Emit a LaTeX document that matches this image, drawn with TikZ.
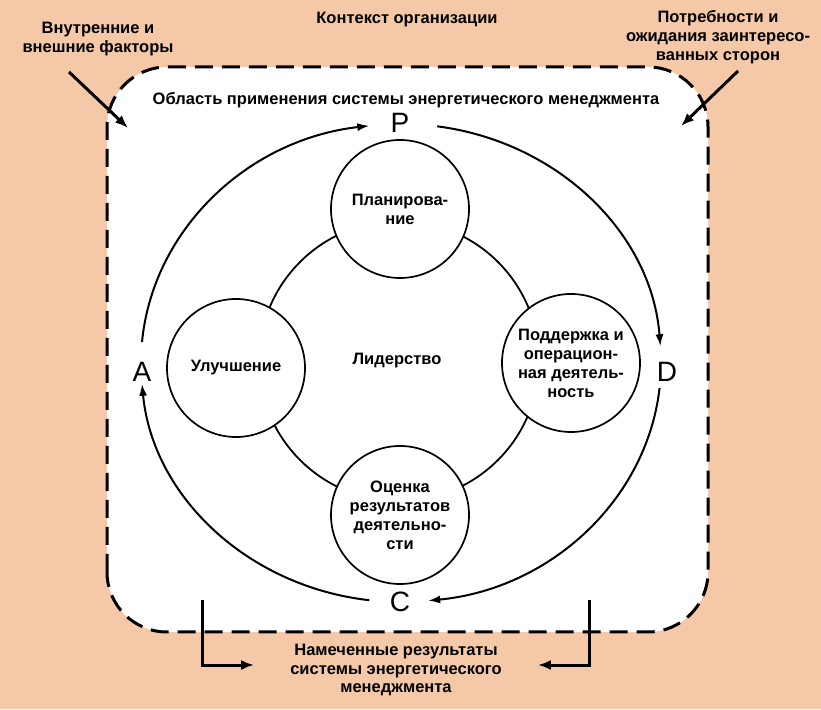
\documentclass[tikz,border=0pt]{standalone}
\usepackage{fontspec}
\setmainfont{Liberation Sans}
\usetikzlibrary{arrows.meta}

\definecolor{fon}{RGB}{245,201,168}

\tikzset{
  txt/.style={font=\bfseries\fontsize{16.5}{19}\selectfont, align=center, inner sep=0pt},
  letra/.style={font=\fontsize{28}{30}\selectfont, inner sep=0pt},
  etap/.style={circle, draw, line width=1.7pt, fill=white, minimum size=138pt, inner sep=0pt, txt},
  pdca/.style={line width=2pt, -{Latex[length=12pt,width=8pt]}},
  outarr/.style={line width=3pt, -{Latex[length=13pt,width=10pt]}},
}

\begin{document}
\begin{tikzpicture}[x=1pt,y=1pt]
  \def\rx{260}
  \def\ry{239}

  % Фон
  \fill[fon] (0,0) rectangle (821,709);
  \useasboundingbox (0,0) rectangle (821,709);

  % Область применения (пунктир)
  \filldraw[fill=white, line width=3pt, dash pattern=on 18pt off 9pt, rounded corners=60pt]
    (107,77) rectangle (708,642);

  % Подписи снаружи
  \node[txt] (ctx) at (407,689) {Контекст организации};
  \node[txt] (vnf) at (98,670) {Внутренние и\\внешние факторы};
  \node[txt] (potr) at (718,672) {Потребности и\\ожидания заинтересо-\\ванных сторон};
  \node[txt] (obl) at (406,609) {Область применения системы энергетического менеджмента};
  \node[txt, font=\bfseries\fontsize{16.5}{18.5}\selectfont] (res) at (396,39)
    {Намеченные результаты\\системы энергетического\\менеджмента};

  % Внутренний круг
  \coordinate (lid0) at (399,348);
  \draw[line width=1.8pt] (lid0) circle (140);
  \node[txt] (lid) at (397,348) {Лидерство};

  % Этапы
  \node[etap] (plan) at (400,500) {Планирова-\\ние};
  \node[etap] (podd) at (571,346) {Поддержка и\\операцион-\\ная деятель-\\ность};
  \node[etap] (ocen) at (400,194) {Оценка\\результатов\\деятельно-\\сти};
  \node[etap] (ulu) at (236,341) {Улучшение};

  % Цикл PDCA
  \coordinate (cyc) at (401,346);
  \node[letra] (P) at (400,586) {P};
  \node[letra] (D) at (667,337) {D};
  \node[letra] (C) at (400,107) {C};
  \node[letra] (A) at (142,337) {A};

  \draw[pdca] ([shift={(82:\rx pt and \ry pt)}]cyc) arc[start angle=82, end angle=4, x radius=\rx, y radius=\ry];
  \draw[pdca] ([shift={(-6:\rx pt and \ry pt)}]cyc) arc[start angle=-6, end angle=-84, x radius=\rx, y radius=\ry];
  \draw[pdca] ([shift={(263:\rx pt and \ry pt)}]cyc) arc[start angle=263, end angle=185, x radius=\rx, y radius=\ry];
  \draw[pdca] ([shift={(175:\rx pt and \ry pt)}]cyc) arc[start angle=175, end angle=97, x radius=\rx, y radius=\ry];

  % Входы
  \coordinate (vnf1) at (69,637);
  \coordinate (vnf2) at (128,581);
  \coordinate (potr1) at (738,638);
  \coordinate (potr2) at (681,583);
  \draw[outarr] (vnf1) -- (vnf2);
  \draw[outarr] (potr1) -- (potr2);

  % Выходы
  \coordinate (lres) at (202,109);
  \coordinate (rres) at (589,109);
  \draw[outarr] (lres) |- ([shift={(-36,5)}]res.west);
  \draw[outarr] (rres) |- ([shift={(36,5)}]res.east);
\end{tikzpicture}
\end{document}
